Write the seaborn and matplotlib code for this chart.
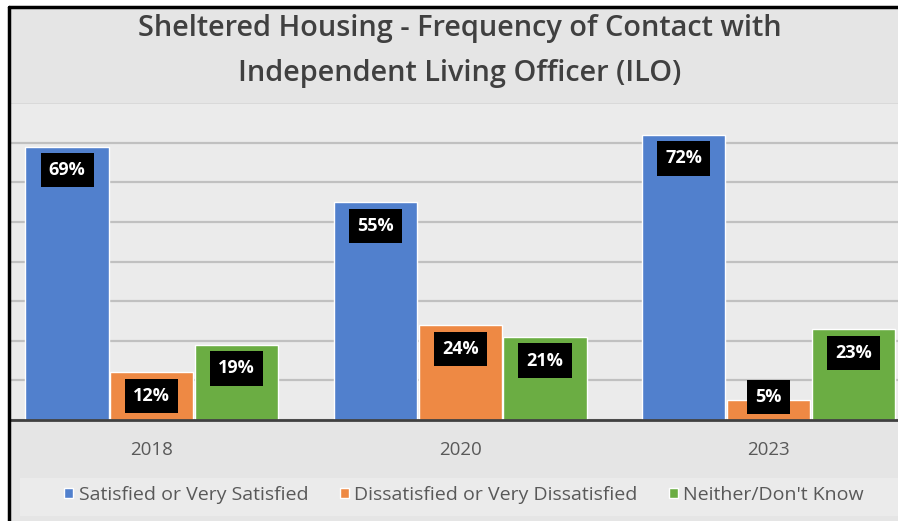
import matplotlib
matplotlib.use("Agg")
import matplotlib.pyplot as plt
import seaborn as sns
import pandas as pd
from matplotlib.patches import Rectangle
from matplotlib.lines import Line2D

# chart data
years = ["2018", "2020", "2023"]
responses = ["Satisfied or Very Satisfied",
             "Dissatisfied or Very Dissatisfied",
             "Neither/Don't Know"]
satisfied = [69, 55, 72]
dissatisfied = [12, 24, 5]
neither = [19, 21, 23]
colors = ["#5180CD", "#EE8944", "#6BAD43"]
title = "Sheltered Housing - Frequency of Contact with\nIndependent Living Officer (ILO)"

df = pd.DataFrame({
    "Year": years * 3,
    "Response": [r for r in responses for _ in years],
    "Pct": satisfied + dissatisfied + neither,
})

sns.set_style("white")
plt.rcParams["font.family"] = ["Open Sans", "DejaVu Sans"]

fig = plt.figure(figsize=(8.98, 5.21), dpi=100, facecolor="white")

# grey panel + black frame on left/top (picture is cropped on the other sides)
fig.patches.append(Rectangle((9 / 898, 0), 1, 1 - 7 / 521, transform=fig.transFigure,
                             facecolor="#e5e5e5", edgecolor="none", zorder=-2))
fig.patches.append(Rectangle((20 / 898, 5 / 521), 1, 38 / 521, transform=fig.transFigure,
                             facecolor="#ebebeb", edgecolor="none", zorder=-1))
fig.lines.append(Line2D([9 / 898, 9 / 898], [0, 1 - 7 / 521], transform=fig.transFigure,
                        color="black", lw=2.5))
fig.lines.append(Line2D([9 / 898, 1], [1 - 7 / 521, 1 - 7 / 521], transform=fig.transFigure,
                        color="black", lw=2.5))

ax = fig.add_axes([10 / 898, 101 / 521, 888 / 898, 317 / 521])
ax.set_facecolor("#ebebeb")

sns.barplot(data=df, x="Year", y="Pct", hue="Response", palette=colors,
            width=0.825, gap=0.02, ax=ax, saturation=1, zorder=3)

ax.set_ylim(0, 80)
ax.set_xlim(-0.46, 2.42)
ax.set_yticks(range(0, 71, 10))
ax.set_yticklabels([])
ax.yaxis.grid(True, color="#c0c0c0", lw=1.6, zorder=0)
ax.axhline(80, color="#d6d6d6", lw=1.2, zorder=0)
ax.set_axisbelow(True)
ax.tick_params(axis="both", length=0)
ax.tick_params(axis="x", pad=15, labelsize=13.5, labelcolor="#595959")
ax.set_xlabel("")
ax.set_ylabel("")
for s in ["top", "left", "right"]:
    ax.spines[s].set_visible(False)
ax.spines["bottom"].set_color("#404040")
ax.spines["bottom"].set_linewidth(2)
ax.spines["bottom"].set_zorder(5)

# black value boxes near the top of each bar
for cont in ax.containers:
    for bar in cont:
        h = bar.get_height()
        ax.text(bar.get_x() + bar.get_width() / 2, max(h - 6, 5.8), f"{h:.0f}%",
                ha="center", va="center", color="white", fontsize=13,
                fontweight="bold", zorder=6,
                bbox=dict(boxstyle="square,pad=0.45", fc="black", ec="none"))

sns.move_legend(ax, "center", bbox_to_anchor=(0.517, 0.05),
                bbox_transform=fig.transFigure, ncol=3, frameon=False,
                title=None, fontsize=14, handlelength=0.45, handleheight=0.45,
                handletextpad=0.3, columnspacing=1.6)
for t in ax.get_legend().get_texts():
    t.set_color("#595959")

fig.text(0.512, 1 - 51 / 521, title, ha="center", va="center", fontsize=20.8,
         color="#404040", fontweight="semibold", linespacing=1.75)

fig.savefig("out.png", dpi=100, facecolor=fig.get_facecolor())
